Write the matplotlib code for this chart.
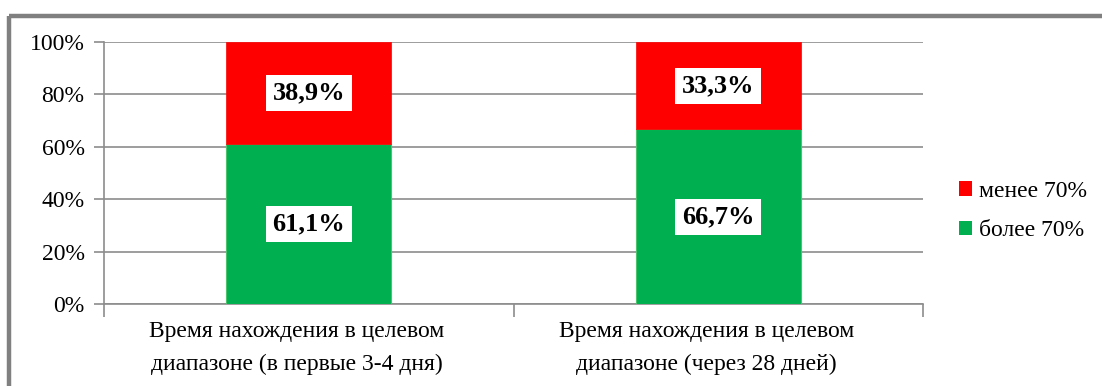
import matplotlib
matplotlib.use("Agg")
import matplotlib.pyplot as plt
from matplotlib.patches import Patch
from matplotlib.lines import Line2D
from matplotlib.transforms import ScaledTranslation

plt.rcParams['font.family'] = ['Liberation Serif', 'DejaVu Serif']

categories = ["Время нахождения в целевом\nдиапазоне (в первые 3-4 дня)",
              "Время нахождения в целевом\nдиапазоне (через 28 дней)"]
above_70 = [61.1, 66.7]   # более 70%
below_70 = [38.9, 33.3]   # менее 70%
series_names = ["менее 70%", "более 70%"]
yticks = [0, 20, 40, 60, 80, 100]

W, H = 1102, 386
fig = plt.figure(figsize=(W / 100, H / 100), dpi=100)
ax = fig.add_axes([104 / W, 82 / H, (923 - 104) / W, (304 - 42) / H])

green = "#00B050"
red = "#FF0000"
grid_c = "#8C8C8C"

x = list(range(len(categories)))
bw = 0.403
ax.bar(x, above_70, width=bw, color=green, edgecolor="#4CC46E", linewidth=0.8, zorder=3)
ax.bar(x, below_70, width=bw, bottom=above_70, color=red, edgecolor=red, linewidth=0.5, zorder=3)

def fmt(v):
    return f"{v:.1f}".replace(".", ",") + "%"

for xi, a, b in zip(x, above_70, below_70):
    for yc, v in ((a / 2, a), (a + b / 2, b)):
        ax.text(xi, yc, fmt(v), ha="center", va="center", fontsize=19, fontweight="bold",
                color="black", zorder=5,
                bbox=dict(boxstyle="square,pad=0.25", facecolor="white", edgecolor="none"))

ax.set_xlim(-0.5, 1.5)
ax.set_ylim(0, 100)
ax.set_yticks(yticks)
ax.set_yticklabels([f"{t}%" for t in yticks], fontsize=17)
ax.yaxis.grid(True, color=grid_c, linewidth=1.2, zorder=0)
ax.set_axisbelow(True)
ax.tick_params(axis="y", length=7, width=1.2, color=grid_c, pad=7)

ax.set_xticks(x)
ax.set_xticklabels(categories, fontsize=17, linespacing=1.75)
ax.tick_params(axis="x", length=0, pad=12)
offset = ScaledTranslation(-12 / 100, 0, fig.dpi_scale_trans)
for lbl in ax.get_xticklabels():
    lbl.set_transform(lbl.get_transform() + offset)
ax.set_xticks([-0.5, 0.5, 1.5], minor=True)
ax.tick_params(axis="x", which="minor", length=9, width=1.2, color=grid_c)

for s in ("top", "right"):
    ax.spines[s].set_visible(False)
ax.spines["left"].set_color(grid_c)
ax.spines["left"].set_linewidth(1.2)
ax.spines["bottom"].set_color(grid_c)
ax.spines["bottom"].set_linewidth(1.2)

handles = [Patch(facecolor=red, edgecolor="none"), Patch(facecolor=green, edgecolor="none")]
fig.legend(handles, series_names, loc="upper left", bbox_to_anchor=(940 / W, 1 - 162 / H),
           frameon=False, fontsize=17, handlelength=0.55, handleheight=0.55,
           handletextpad=0.3, labelspacing=0.78, borderpad=0.3)

# Outer frame along the top and left edges
fig.add_artist(Line2D([9 / W, 1.0], [1 - 16 / H, 1 - 16 / H], color="#808080",
                      linewidth=3.2, transform=fig.transFigure, solid_capstyle="butt"))
fig.add_artist(Line2D([9 / W, 9 / W], [0, 1 - 16 / H], color="#808080",
                      linewidth=3.2, transform=fig.transFigure, solid_capstyle="butt"))

fig.savefig("out.png", dpi=100)
